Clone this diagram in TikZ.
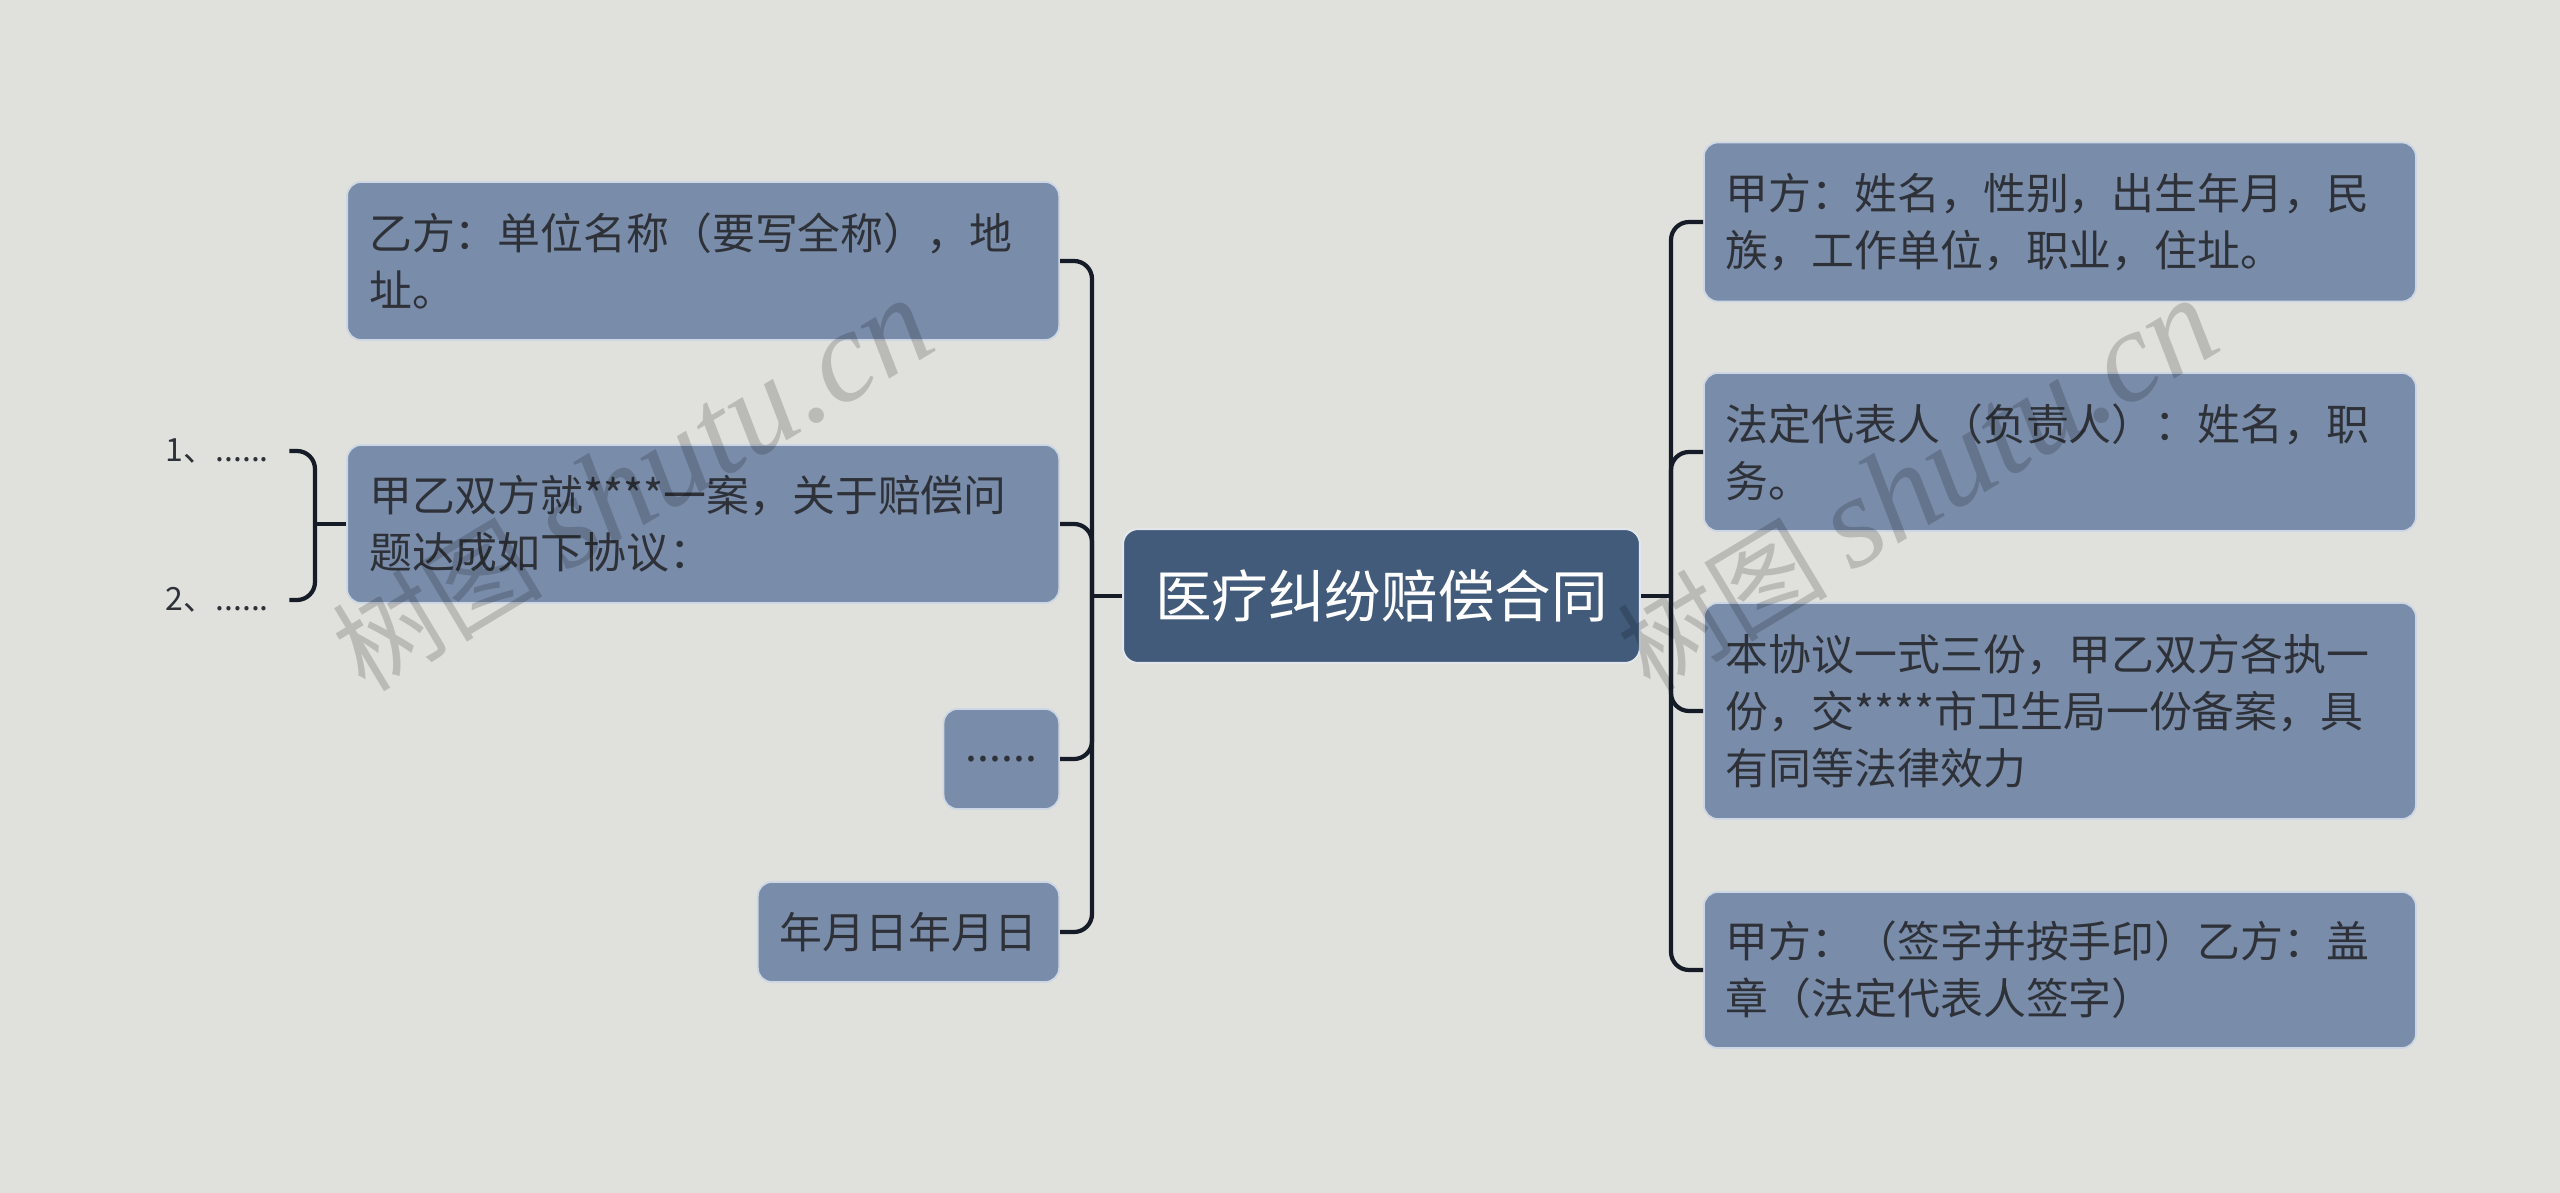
\documentclass[tikz,border=0pt]{standalone}
\usepackage{fontspec}
\setmainfont{Noto Sans CJK SC}
\newfontfamily\wmlatin{Liberation Serif}

\definecolor{bgcol}{RGB}{224,225,220}
\definecolor{topicfill}{RGB}{121,140,170}
\definecolor{rootfill}{RGB}{66,91,123}
\definecolor{linkcol}{RGB}{21,28,39}
\definecolor{inkcol}{RGB}{46,50,56}
\definecolor{edgecol}{RGB}{205,214,228}

\begin{document}
\begin{tikzpicture}[
    topic/.style={rectangle, draw=edgecol, line width=0.5pt, fill=topicfill, rounded corners=0.14cm, text=inkcol, font=\fontsize{12.2pt}{16.3pt}\selectfont, align=left, inner xsep=0.22cm, inner ysep=0pt},
    wide/.style={topic, text width=6.68cm},
    central/.style={rectangle, draw=white!85!rootfill, line width=0.6pt, fill=rootfill, rounded corners=0.15cm, text=white, font=\fontsize{16.1pt}{20pt}\selectfont, minimum width=5.17cm, minimum height=1.34cm},
    small/.style={font=\fontsize{9.1pt}{11pt}\selectfont, text=inkcol, inner sep=0pt},
    link/.style={draw=linkcol, line width=1.2pt, rounded corners=0.18cm},
    watermark/.style={text=black, opacity=0.17, rotate=31, anchor=base west, inner sep=0pt}
]
% -------------------------
% Canvas
% -------------------------
    \useasboundingbox (0,0) rectangle (25.6,-11.93);
    \fill[bgcol] (0,0) rectangle (25.6,-11.93);

% -------------------------
% Root
% -------------------------
    \node[central] (root) at (13.815,-5.96) {医疗纠纷赔偿合同};

% -------------------------
% Left side
% -------------------------
    \node[wide, anchor=east, minimum height=1.58cm] (l1) at (10.6,-2.61) {乙方：单位名称（要写全称），地\\址。};
    \node[wide, anchor=east, minimum height=1.58cm] (l2) at (10.6,-5.24) {甲乙双方就****一案，关于赔偿问\\题达成如下协议：};
    \node[topic, anchor=east, minimum width=1.12cm, minimum height=1.0cm] (l3) at (10.6,-7.59) {......};
    \node[topic, anchor=east, minimum width=3.0cm, minimum height=1.0cm] (l4) at (10.6,-9.32) {年月日年月日};

    % sub items of l2
    \node[small, anchor=west] (sub1) at (1.65,-4.51) {1、......};
    \node[small, anchor=west] (sub2) at (1.65,-6.00) {2、......};

% -------------------------
% Right side
% -------------------------
    \node[wide, anchor=west, minimum height=1.59cm] (r1) at (17.03,-2.22) {甲方：姓名，性别，出生年月，民\\族，工作单位，职业，住址。};
    \node[wide, anchor=west, minimum height=1.58cm] (r2) at (17.03,-4.52) {法定代表人（负责人）：姓名，职\\务。};
    \node[wide, anchor=west, minimum height=2.16cm] (r3) at (17.03,-7.11) {本协议一式三份，甲乙双方各执一\\份，交****市卫生局一份备案，具\\有同等法律效力};
    \node[wide, anchor=west, minimum height=1.56cm] (r4) at (17.03,-9.70) {甲方：（签字并按手印）乙方：盖\\章（法定代表人签字）};

% -------------------------
% Connectors
% -------------------------
    \coordinate (ltrunk) at (10.92,-5.96);
    \coordinate (rtrunk) at (16.71,-5.96);
    \coordinate (brace) at (3.15,-5.24);

    \draw[link] (root.west) -- (ltrunk);
    \foreach \n in {l1,l2,l3,l4}
        \draw[link] (ltrunk) |- (\n.east);

    \draw[link] (root.east) -- (rtrunk);
    \foreach \n in {r1,r2,r3,r4}
        \draw[link] (rtrunk) |- (\n.west);

    % brace to the sub items
    \draw[link] (l2.west) -- (brace);
    \draw[link] (brace) |- ([xshift=0.2cm]sub1.east);
    \draw[link] (brace) |- ([xshift=0.2cm]sub2.east);

% -------------------------
% Watermarks
% -------------------------
    \node[watermark] (wm1) at (3.65,-6.94) {\fontsize{30pt}{30pt}\selectfont 树图 {\wmlatin\itshape\fontsize{37pt}{37pt}\selectfont shutu.cn}};
    \node[watermark] (wm2) at (16.5,-6.94) {\fontsize{30pt}{30pt}\selectfont 树图 {\wmlatin\itshape\fontsize{37pt}{37pt}\selectfont shutu.cn}};
\end{tikzpicture}
\end{document}
